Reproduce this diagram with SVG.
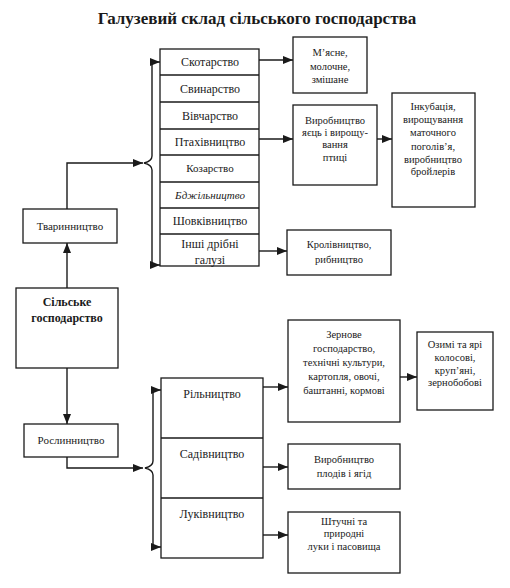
<svg xmlns="http://www.w3.org/2000/svg" width="510" height="588" viewBox="0 0 510 588">
<defs>
<marker id="ah" markerUnits="userSpaceOnUse" markerWidth="10" markerHeight="8" refX="10" refY="4" orient="auto">
<path d="M0,0 L10,4 L0,8 z" fill="#1a1a1a"/>
</marker>
<style>
.box{fill:#fff;stroke:#1a1a1a;stroke-width:1.3}
.ln{fill:none;stroke:#1a1a1a;stroke-width:1.4}
.arr{fill:none;stroke:#1a1a1a;stroke-width:1.4;marker-end:url(#ah)}
text{font-family:"Liberation Serif","Times New Roman",serif;fill:#1a1a1a;text-anchor:middle}
.t12{font-size:12px}
.t11{font-size:11px}
.t10{font-size:10.5px}
.title{font-size:17px;font-weight:bold}
</style>
</defs>
<rect width="510" height="588" fill="#fff"/>
<text class="title" x="257" y="24">Галузевий склад сільського господарства</text>

<g id="silske">
<rect class="box" x="16" y="288" width="102" height="80"/>
<text class="t12" font-weight="bold" x="67" y="306">Сільське</text>
<text class="t12" font-weight="bold" x="67" y="322">господарство</text>
</g>
<g id="tvarynnytstvo">
<rect class="box" x="23" y="209" width="94" height="34"/>
<text class="t11" x="70" y="230">Тваринництво</text>
</g>
<g id="roslynnytstvo">
<rect class="box" x="24" y="424" width="94" height="33"/>
<text class="t11" x="71" y="444">Рослинництво</text>
</g>

<g id="animal-stack">
<rect class="box" x="160" y="49" width="99" height="217"/>
<line class="ln" x1="160" y1="75" x2="259" y2="75"/>
<line class="ln" x1="160" y1="102" x2="259" y2="102"/>
<line class="ln" x1="160" y1="129" x2="259" y2="129"/>
<line class="ln" x1="160" y1="155" x2="259" y2="155"/>
<line class="ln" x1="160" y1="182" x2="259" y2="182"/>
<line class="ln" x1="160" y1="208" x2="259" y2="208"/>
<line class="ln" x1="160" y1="234" x2="259" y2="234"/>
<text class="t12" x="210" y="66">Скотарство</text>
<text class="t12" x="210" y="93">Свинарство</text>
<text class="t12" x="210" y="120">Вівчарство</text>
<text class="t12" x="210" y="146">Птахівництво</text>
<text class="t11" x="210" y="172">Козарство</text>
<text class="t11" x="210" y="199" font-style="italic">Бджільництво</text>
<text class="t12" x="210" y="225">Шовківництво</text>
<text class="t12" x="210" y="248">Інші  дрібні</text>
<text class="t12" x="210" y="264">галузі</text>
</g>

<g id="plant-stack">
<rect class="box" x="161" y="378" width="102" height="180"/>
<line class="ln" x1="161" y1="438" x2="263" y2="438"/>
<line class="ln" x1="161" y1="498" x2="263" y2="498"/>
<text class="t12" x="212" y="398">Рільництво</text>
<text class="t12" x="212" y="458">Садівництво</text>
<text class="t12" x="212" y="518">Луківництво</text>
</g>

<g id="myasne">
<rect class="box" x="293" y="37" width="74" height="56"/>
<text class="t10" x="330" y="56">М’ясне,</text>
<text class="t10" x="330" y="70">молочне,</text>
<text class="t10" x="330" y="83">змішане</text>
</g>
<g id="yaytsia">
<rect class="box" x="293" y="105" width="84" height="80"/>
<text class="t10" x="335" y="124">Виробництво</text>
<text class="t10" x="335" y="136">яєць і вирощу-</text>
<text class="t10" x="335" y="148">вання</text>
<text class="t10" x="335" y="161">птиці</text>
</g>
<g id="inkubatsiya">
<rect class="box" x="392" y="93" width="83" height="114"/>
<text class="t10" x="433" y="110">Інкубація,</text>
<text class="t10" x="433" y="123">вирощування</text>
<text class="t10" x="433" y="136">маточного</text>
<text class="t10" x="433" y="150">поголів’я,</text>
<text class="t10" x="433" y="163">виробництво</text>
<text class="t10" x="433" y="175">бройлерів</text>
</g>
<g id="krolivnytstvo">
<rect class="box" x="287" y="230" width="104" height="45"/>
<text class="t10" x="339" y="248">Кролівництво,</text>
<text class="t10" x="339" y="263">рибництво</text>
</g>
<g id="zernove">
<rect class="box" x="288" y="320" width="112" height="102"/>
<text class="t10" x="344" y="338">Зернове</text>
<text class="t10" x="344" y="352">господарство,</text>
<text class="t10" x="344" y="366">технічні культури,</text>
<text class="t10" x="344" y="380">картопля, овочі,</text>
<text class="t10" x="344" y="394">баштанні, кормові</text>
</g>
<g id="ozymi">
<rect class="box" x="417" y="332" width="76" height="78"/>
<text class="t10" x="455" y="348">Озимі та ярі</text>
<text class="t10" x="455" y="361">колосові,</text>
<text class="t10" x="455" y="374">круп’яні,</text>
<text class="t10" x="455" y="386">зернобобові</text>
</g>
<g id="plody">
<rect class="box" x="288" y="444" width="112" height="45"/>
<text class="t10" x="344" y="463">Виробництво</text>
<text class="t10" x="344" y="477">плодів і ягід</text>
</g>
<g id="luky">
<rect class="box" x="288" y="512" width="112" height="61"/>
<text class="t10" x="344" y="525">Штучні  та</text>
<text class="t10" x="344" y="537">природні</text>
<text class="t10" x="344" y="550">луки і пасовища</text>
</g>

<g id="connectors">
<path class="arr" d="M67,288 L67,243"/>
<path class="arr" d="M67,368 L67,424"/>
<path class="arr" d="M67,209 L67,163 L143,163"/>
<path class="ln" d="M152,62 L152,156 Q152,161 144,163 Q152,165 152,170 L152,265"/>
<path class="arr" d="M152,62 L160,62"/>
<path class="arr" d="M152,265 L160,265"/>
<path class="arr" d="M67,457 L67,468 L143,468"/>
<path class="ln" d="M153,390 L153,461 Q153,466 145,468 Q153,470 153,475 L153,547"/>
<path class="arr" d="M153,390 L161,390"/>
<path class="arr" d="M153,547 L161,547"/>
<path class="arr" d="M259,60 L293,60"/>
<path class="arr" d="M259,139 L293,139"/>
<path class="arr" d="M377,139 L392,139"/>
<path class="arr" d="M259,251 L287,251"/>
<path class="arr" d="M263,387 L288,387"/>
<path class="arr" d="M400,377 L417,377"/>
<path class="arr" d="M263,467 L288,467"/>
<path class="arr" d="M263,535 L288,535"/>
</g>
</svg>
